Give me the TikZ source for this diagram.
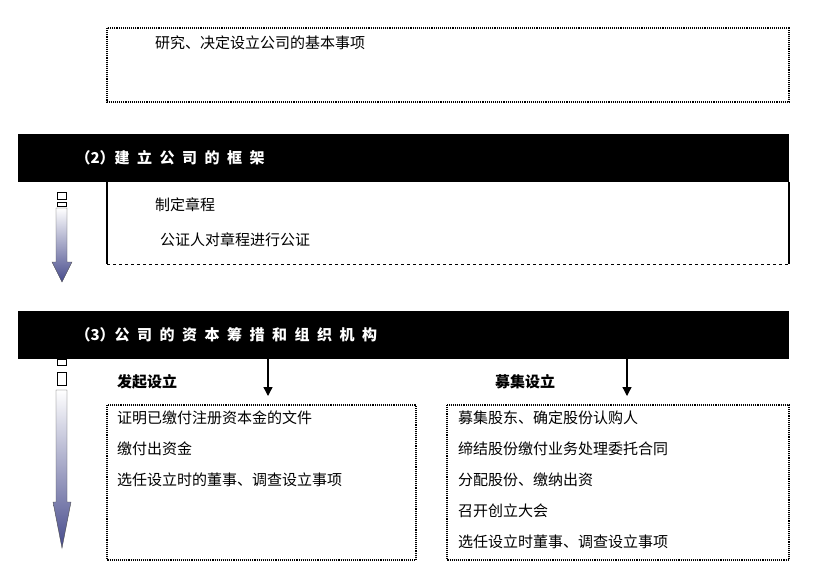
\documentclass[tikz,border=0pt]{standalone}
\usepackage{fontspec}
\setmainfont{Noto Sans CJK SC}
\newfontfamily\cjkb{Noto Sans CJK SC Bold}
\usetikzlibrary{arrows.meta}
\definecolor{arrowblue}{HTML}{474B8C}
\tikzset{
  bar/.style={fill=black,draw=none},
  bartext/.style={text=white,anchor=west,font=\bfseries\fontsize{15}{15}\selectfont},
  item/.style={anchor=west,inner sep=0pt,font=\fontsize{15}{15}\selectfont},
  head/.style={anchor=west,inner sep=0pt,font=\bfseries\fontsize{15}{15}\selectfont},
  dotbox/.style={draw,densely dotted,line width=1.1pt},
  conn/.style={-{Triangle[length=9pt,width=9pt]},line width=1.3pt},
}
\begin{document}
\begin{tikzpicture}[x=1pt,y=-1pt]
\useasboundingbox (0,0) rectangle (818,579);
% top box
\draw[dotbox] (107,28) rectangle (789,102);
\node[item] (t1) at (155,43) {研究、决定设立公司的基本事项};
% section 2
\fill[bar] (18,134) rectangle (789,182);
\node[bartext] (b2) at (72,158) {（2）建\hspace{0.5em}立\hspace{0.5em}公\hspace{0.5em}司\hspace{0.5em}的\hspace{0.5em}框\hspace{0.5em}架};
\draw[line width=1.3pt] (107,182) -- (107,264);
\draw[line width=2pt] (789,182) -- (789,264);
\draw[dashed,line width=1pt] (107,264) -- (789,264);
\node[item] (i21) at (155,205) {制定章程};
\node[item] (i22) at (160,240) {公证人对章程进行公证};
% arrow 2
\draw (57,192) rectangle (66,199);
\draw (57,202) rectangle (66,206);
\shade[top color=white,bottom color=arrowblue,draw=black!70]
  (56,208) -- (67,208) -- (67,262) -- (72,262) -- (62,282) -- (52,262) -- (56,262) -- cycle;
% section 3
\fill[bar] (18,311) rectangle (789,359);
\node[bartext] (b3) at (72,335) {（3）公\hspace{0.5em}司\hspace{0.5em}的\hspace{0.5em}资\hspace{0.5em}本\hspace{0.5em}筹\hspace{0.5em}措\hspace{0.5em}和\hspace{0.5em}组\hspace{0.5em}织\hspace{0.5em}机\hspace{0.5em}构};
\coordinate (a1) at (268,359);
\coordinate (a2) at (627,359);
\coordinate (e1) at (268,396);
\coordinate (e2) at (627,396);
\draw[conn] (a1) -- (e1);
\draw[conn] (a2) -- (e2);
\node[head] (h1) at (117,382) {发起设立};
\node[head] (h2) at (495,382) {募集设立};
\draw[dotbox] (107,405) rectangle (416,560);
\draw[dotbox] (447,405) rectangle (789,560);
\node[item] (l1) at (117,418) {证明已缴付注册资本金的文件};
\node[item] (l2) at (117,449) {缴付出资金};
\node[item] (l3) at (117,480) {选任设立时的董事、调查设立事项};
\node[item] (r1) at (458,418) {募集股东、确定股份认购人};
\node[item] (r2) at (458,449) {缔结股份缴付业务处理委托合同};
\node[item] (r3) at (458,480) {分配股份、缴纳出资};
\node[item] (r4) at (458,511) {召开创立大会};
\node[item] (r5) at (458,542) {选任设立时董事、调查设立事项};
% arrow 3
\draw (57,359) rectangle (66,365);
\draw (57,372) rectangle (66,385);
\shade[top color=white,bottom color=arrowblue,draw=black!70]
  (56,390) -- (67,390) -- (67,502) -- (71,502) -- (62,548) -- (53,502) -- (56,502) -- cycle;
\end{tikzpicture}
\end{document}
